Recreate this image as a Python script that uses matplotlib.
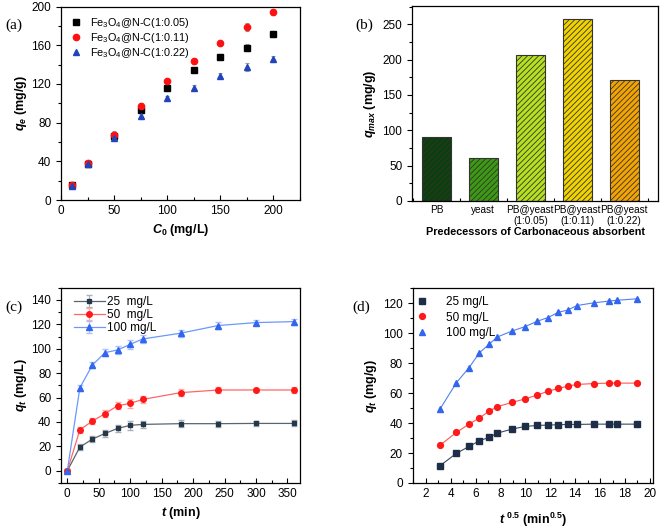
import matplotlib
matplotlib.use('Agg')
from matplotlib import pyplot as plt
from matplotlib.ticker import MultipleLocator
import numpy as np

plt.rcParams['font.family'] = ['Liberation Sans', 'DejaVu Sans']
plt.rcParams['mathtext.fontset'] = 'custom'
plt.rcParams['mathtext.rm'] = 'Liberation Sans:bold'
plt.rcParams['mathtext.it'] = 'Liberation Sans:bold:italic'
plt.rcParams['mathtext.bf'] = 'Liberation Sans:bold'
plt.rcParams['hatch.linewidth'] = 0.6
plt.rcParams['axes.linewidth'] = 0.9

# (a) isotherm data
c0 = [10, 25, 50, 75, 100, 125, 150, 175, 200]
qe_005 = [15.2, 37.0, 66.5, 93.0, 115.5, 134.5, 148.3, 157.6, 171.4]
qe_011 = [15.2, 38.6, 67.6, 97.2, 122.8, 143.4, 162.0, 178.6, 194.1]
qe_022 = [14.8, 37.2, 64.0, 87.0, 105.0, 116.0, 128.3, 137.6, 145.9]
qe_err = [3.0, 2.5, 3.5, 3.5, 2.5, 2.5, 2.5, 4.0, 3.0]

# (b) qmax bars
precursors = ['PB', 'yeast', 'PB@yeast\n(1:0.05)', 'PB@yeast\n(1:0.11)', 'PB@yeast\n(1:0.22)']
qmax = [90, 61, 206, 257, 171]
bar_colors = ['#0b3f0c', '#3c9a12', '#b6e11e', '#f1d300', '#f4a400']

# (c) kinetics
t = [0, 20, 40, 60, 80, 100, 120, 180, 240, 300, 360]
qt_25 = [0, 19.4, 26.0, 30.6, 34.7, 37.2, 38.0, 38.6, 38.6, 38.8, 38.8]
qt_50 = [0, 33.6, 40.7, 46.8, 53.3, 55.2, 58.5, 64.0, 66.2, 66.2, 66.2]
qt_100 = [0, 68.0, 86.7, 96.8, 99.0, 103.6, 108.0, 112.7, 119.0, 121.4, 122.2]
qt_err = [1.5, 2.5, 2.5, 3.0, 3.0, 3.5, 3.0, 3.0, 2.5, 2.0, 2.5]

# (d) intra-particle diffusion
sqrt_t = [3.16, 4.47, 5.48, 6.32, 7.07, 7.75, 8.94, 10.0, 10.95, 11.83, 12.65,
          13.42, 14.14, 15.49, 16.73, 17.32, 18.97]
qd_25 = [11.6, 19.8, 24.4, 28.2, 30.4, 33.3, 36.0, 37.8, 38.4, 38.7, 38.9,
         39.1, 39.1, 39.3, 39.3, 39.3, 39.3]
qd_50 = [25.3, 33.8, 39.3, 43.5, 47.8, 51.0, 53.8, 56.2, 58.7, 61.3, 63.1,
         64.7, 65.8, 66.4, 66.7, 66.7, 66.7]
qd_100 = [49.5, 67.0, 77.0, 87.0, 92.5, 97.5, 101.5, 104.5, 108.0, 110.5, 114.0,
          115.5, 118.5, 120.3, 121.5, 122.0, 123.0]

fig = plt.figure(figsize=(6.61, 5.30), dpi=100)
axa = fig.add_axes([0.0923, 0.6226, 0.3616, 0.3651])
axb = fig.add_axes([0.6233, 0.6208, 0.3722, 0.3680])
axc = fig.add_axes([0.0923, 0.0887, 0.3616, 0.3685])
axd = fig.add_axes([0.6244, 0.0887, 0.3635, 0.3673])

tick_fs = 8.5
lab_fs = 9

for ax in [axa, axb, axc, axd]:
  ax.tick_params(axis='y', which='both', direction='out', labelsize=tick_fs, width=0.8)
  ax.tick_params(axis='x', which='both', direction='in', labelsize=tick_fs, width=0.8)
  ax.tick_params(which='major', length=3.5)
  ax.tick_params(which='minor', length=2)

# (a)
err_kw = dict(ecolor='#999999', elinewidth=0.8, capsize=1.5, capthick=0.8,
              linestyle='none', marker='none')
for q in [qe_005, qe_011, qe_022]:
  axa.errorbar(c0, q, yerr=qe_err, **err_kw)
axa.plot(c0, qe_005, 's', color='black', markersize=4.5,
         label=r'$\mathregular{Fe_3O_4}$@N-C(1:0.05)')
axa.plot(c0, qe_011, 'o', color='#ff1010', markersize=4.5,
         label=r'$\mathregular{Fe_3O_4}$@N-C(1:0.11)')
axa.plot(c0, qe_022, '^', color='#2244bb', markersize=4.5,
         label=r'$\mathregular{Fe_3O_4}$@N-C(1:0.22)')
axa.set_xlim(0, 225)
axa.set_ylim(0, 200)
axa.xaxis.set_major_locator(MultipleLocator(50))
axa.xaxis.set_minor_locator(MultipleLocator(25))
axa.yaxis.set_major_locator(MultipleLocator(40))
axa.yaxis.set_minor_locator(MultipleLocator(20))
axa.set_xlabel(r'$C_0$ (mg/L)', fontsize=lab_fs, fontweight='bold', labelpad=4)
axa.set_ylabel(r'$q_e$ (mg/g)', fontsize=lab_fs, fontweight='bold', labelpad=2)
axa.legend(loc='upper left', fontsize=7.8, frameon=False, handletextpad=0.8,
           borderaxespad=0.45, labelspacing=0.1, handlelength=1.0,
           bbox_to_anchor=(0.0, 1.0))

# (b)
xb = np.arange(len(precursors))
axb.bar(xb, qmax, width=0.62, color=bar_colors, edgecolor='#333333',
        linewidth=0.8, hatch='//////')
axb.set_xlim(-0.52, 4.72)
axb.set_ylim(0, 276)
axb.set_xticks(xb)
axb.set_xticklabels(precursors, fontsize=7.2, linespacing=1.05)
axb.xaxis.set_minor_locator(MultipleLocator(1, offset=0.5))
axb.tick_params(axis='x', which='major', length=0, pad=3)
axb.yaxis.set_major_locator(MultipleLocator(50))
axb.yaxis.set_minor_locator(MultipleLocator(25))
axb.set_xlabel('Predecessors of Carbonaceous absorbent', fontsize=7.8,
               fontweight='bold', labelpad=1)
axb.set_ylabel(r'$q_{max}$ (mg/g)', fontsize=lab_fs, fontweight='bold', labelpad=3)

# (c)
axc.errorbar(t, qt_25, yerr=qt_err, color='#5a6570', marker='s', markersize=3.5,
             markerfacecolor='#25384a', markeredgecolor='#25384a', lw=0.9,
             ecolor='#aab0b8', elinewidth=0.8, capsize=2, label='25  mg/L')
axc.errorbar(t, qt_50, yerr=qt_err, color='#ff6666', marker='o', markersize=4,
             markerfacecolor='#ff1a1a', markeredgecolor='#ff1a1a', lw=0.9,
             ecolor='#ffaaaa', elinewidth=0.8, capsize=2, label='50  mg/L')
axc.errorbar(t, qt_100, yerr=qt_err, color='#6b98ff', marker='^', markersize=4,
             markerfacecolor='#3366ee', markeredgecolor='#3366ee', lw=0.9,
             ecolor='#a9c2ff', elinewidth=0.8, capsize=2, label='100 mg/L')
axc.set_xlim(-10, 370)
axc.set_ylim(-10, 150)
axc.xaxis.set_major_locator(MultipleLocator(50))
axc.xaxis.set_minor_locator(MultipleLocator(25))
axc.yaxis.set_major_locator(MultipleLocator(20))
axc.yaxis.set_minor_locator(MultipleLocator(10))
axc.set_xlabel(r'$t$ (min)', fontsize=lab_fs, fontweight='bold', labelpad=4)
axc.set_ylabel(r'$q_t$ (mg/L)', fontsize=lab_fs, fontweight='bold', labelpad=2)
axc.legend(loc='upper left', fontsize=8.5, frameon=False, handletextpad=0.2,
           borderaxespad=0.3, labelspacing=0.1, handlelength=2.6,
           bbox_to_anchor=(0.02, 1.0))

# (d)
axd.plot(sqrt_t, qd_25, color='#3a4a60', lw=0.8)
axd.plot(sqrt_t, qd_50, color='#ff5555', lw=0.8)
axd.plot(sqrt_t, qd_100, color='#5580ee', lw=0.8)
axd.plot(sqrt_t, qd_25, 's', color='#1e2e48', markersize=3.8, label='25 mg/L')
axd.plot(sqrt_t, qd_50, 'o', color='#ff1a1a', markersize=4.2, label='50 mg/L')
axd.plot(sqrt_t, qd_100, '^', color='#3366ee', markersize=4.2, label='100 mg/L')
axd.set_xlim(0.96, 20.25)
axd.set_ylim(0, 130)
axd.xaxis.set_major_locator(MultipleLocator(2))
axd.xaxis.set_minor_locator(MultipleLocator(1))
axd.yaxis.set_major_locator(MultipleLocator(20))
axd.yaxis.set_minor_locator(MultipleLocator(10))
axd.set_xlabel(r'$t^{\ 0.5}$ (min$^{0.5}$)', fontsize=lab_fs, fontweight='bold', labelpad=8)
axd.set_ylabel(r'$q_t$ (mg/g)', fontsize=lab_fs, fontweight='bold', labelpad=3)
axd.legend(loc='upper left', fontsize=8.5, frameon=False, handletextpad=1.6,
           borderaxespad=0.0, labelspacing=0.3, handlelength=0.8,
           bbox_to_anchor=(0.0, 0.985))

# panel letters
for x, y, s in [(5, 25, '(a)'), (355, 25, '(b)'), (5, 307, '(c)'), (352, 307, '(d)')]:
  fig.text(x / 661.0, 1 - y / 530.0, s, fontsize=11, family='Liberation Serif',
           ha='left', va='center')

fig.savefig('out.png', dpi=100)
